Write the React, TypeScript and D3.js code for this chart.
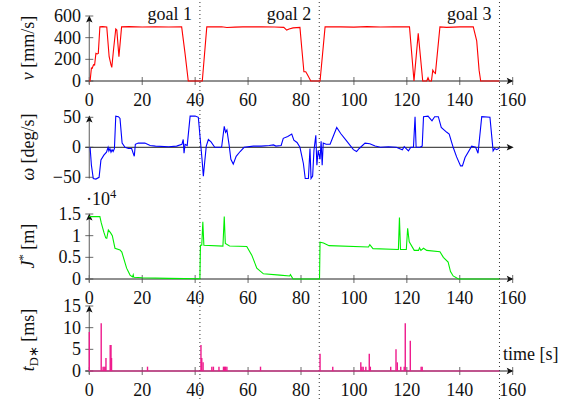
import * as d3 from 'd3'

// time [s], velocity [mm/s]
const velocity: [number, number][] = [
  [0, 0], [0.3, 0], [0.8, 120], [1.1, 117], [1.6, 150], [2.0, 148], [2.5, 255], [3.0, 250], [3.4, 255],
  [4.0, 500], [5, 502], [6.6, 498], [7.5, 224], [8.2, 150], [8.5, 126], [9.2, 300], [10.0, 480], [10.4, 470],
  [11.2, 224], [12.2, 500], [15, 502], [20, 498], [25, 501], [30, 499], [34.9, 500], [36.2, 250], [37.4, 0],
  [42.7, 0], [44.4, 500], [50, 501], [52, 494], [55, 497], [58, 500], [65, 500], [70, 498], [73.5, 495],
  [74.6, 470], [75.5, 480], [77, 490], [79.6, 495], [80.3, 300], [81.1, 86], [81.8, 85], [82.4, 60], [83.7, 0],
  [87.2, 0], [89.1, 500], [95, 500], [100, 497], [105, 502], [110, 499], [115, 500], [121, 500], [122.7, 0],
  [124.3, 440], [126, 0], [127.5, 0], [128, 30], [128.5, 0], [129.3, 0], [129.8, 100], [130.3, 80], [130.8, 70],
  [132.5, 500], [135, 495], [140, 500], [145.1, 500], [146.4, 370], [147.3, 100], [147.9, 0], [155, 0],
]

// time [s], turn rate [deg/s]
const omega: [number, number][] = [
  [0.3, 0], [0.8, -30], [1.5, -52], [2.5, -53], [3.7, -50], [4.4, -21], [5.5, -13], [6.5, -8], [7.1, 0],
  [7.4, -6], [7.8, -2], [8.2, -8], [8.6, -4], [9.0, -7], [9.5, -2], [10.0, 52], [11.0, 51], [11.6, 48],
  [12.4, 7], [13.5, 0], [14.8, -2], [16.0, -2], [16.6, -10], [17.0, -15], [17.4, 5], [18.5, 7], [21, 7],
  [23, 3], [25, 2], [30, 1], [33, 2], [35.0, 5], [35.5, 13], [35.8, -10], [36.2, 5], [37.0, 3], [38.1, 52],
  [40, 52], [41.2, 50], [42.0, 10], [42.6, -20], [43.1, -48], [43.6, -25], [44.2, 2], [45, 13], [46, 9],
  [47.4, 0], [50, 0], [51, 35], [51.5, 25], [52, 29], [52.8, 5], [53.5, -20], [54.4, -28], [55.5, -15],
  [57, -7], [58.5, 0], [62, 2], [65, 2], [68, 3], [69.6, 4], [70.5, 2], [72.5, 3], [73.3, 15], [75, 18],
  [76.5, 22], [77.3, 12], [78.5, 8], [79.6, 0], [80.9, -27], [81.6, -52], [82.8, -52], [83.4, -2], [83.8, -52],
  [84.4, -48], [84.9, -5], [85.6, 20], [86.0, -30], [86.5, -5], [87.2, -20], [87.6, 10], [88.0, -30], [88.4, 7],
  [89.5, 5], [91, 5], [93.5, 33], [95, 23], [97, 12], [99.8, -4], [101, -7], [102, -2], [104.2, 7], [106, 6],
  [108, 2], [110, 0], [113, 1], [116, 0], [118.3, -4], [119, 1], [120.6, -6], [121.5, 0], [122.5, 0],
  [123.1, 51], [123.5, 0], [125, 0], [125.8, 2], [126.3, 51], [128, 52], [129.5, 44], [130.5, 51], [131.9, 51],
  [133.0, 33], [135.1, 25], [136, 22], [137.5, 0], [138.8, -16], [140.3, -31], [141, -31], [142, -17],
  [144.5, 2], [146, 0], [146.9, -10], [148.3, 51], [151.4, 50], [152.6, -6], [153.2, -2], [154, -4], [155, -1],
]

// time [s], cost J* [x10^4 m]
const cost: [number, number][] = [
  [0, 1.44], [4.0, 1.44], [4.5, 1.30], [5.5, 1.08], [6.2, 0.95], [6.6, 0.94], [7.2, 1.13], [8.0, 1.07],
  [8.7, 1.0], [9.7, 0.71], [11.6, 0.67], [12.3, 0.62], [14.1, 0.25], [15.4, 0.09], [16.3, 0.05], [16.6, 0.1],
  [16.8, 0.04], [20, 0.03], [30, 0.015], [41.8, 0.005], [42.0, 0.78], [42.5, 0.78], [42.9, 1.32], [43.3, 0.78],
  [50.5, 0.76], [51, 1.44], [51.4, 0.82], [53, 0.76], [59.5, 0.75], [61.4, 0.55], [63.3, 0.25], [65.8, 0.12],
  [72, 0.09], [75.7, 0.07], [76, 0.1], [77, 0.0], [87.0, 0.0], [87.2, 0.85], [88.5, 0.83], [90.6, 0.77],
  [105.5, 0.74], [106, 0.79], [107.2, 0.70], [116.8, 0.68], [117.2, 1.42], [117.6, 0.68], [119.8, 0.68],
  [120.3, 1.17], [120.9, 0.86], [122.8, 0.66], [124.4, 0.66], [124.8, 0.72], [125.3, 0.66], [126.3, 0.71],
  [127.5, 0.66], [132.5, 0.63], [133.8, 0.50], [135.6, 0.39], [136.5, 0.17], [137.5, 0.07], [139.5, 0.0],
  [155, 0.0],
]

// planning times t_D* [ms]
const planTimes = [0, 4.5, 5.2, 5.6, 6.0, 6.3, 7.9, 8.2, 8.4, 22, 42.2, 42.5, 43, 46.3, 46.9, 49, 50.7, 51.1,
  51.5, 52, 64.7, 87.2, 92, 102.6, 103, 103.5, 104.5, 105.8, 106.2, 113.9, 115.9, 116.4, 117.7, 119, 119.4,
  121.3, 125.4, 125.8]
const planValues = [9, 11, 1, 1, 1, 3, 6, 6, 3, 1, 6, 3, 2, 1, 1, 1, 1, 1, 1, 1, 1, 4, 1, 2, 1, 1, 1, 4, 1, 1,
  5, 2, 1, 1, 11, 7, 1, 1]

const goalTimes = [41.8, 86.9, 155]
const goalLabels = ['goal 1', 'goal 2', 'goal 3']
const xTicks = [0, 20, 40, 60, 80, 100, 120, 140, 160]

const FONT = 'Liberation Serif'
const FS = 18
const SUB = 12.5

const x = d3.scaleLinear().domain([0, 160]).range([89.3, 512.7])
const yV = d3.scaleLinear().domain([0, 600]).range([81, 16])
const yW = d3.scaleLinear().domain([-50, 50]).range([177.3, 117.3])
const yJ = d3.scaleLinear().domain([0, 1.5]).range([279, 214])
const yT = d3.scaleLinear().domain([0, 15]).range([371, 306])

function linePath(data: [number, number][], y: d3.ScaleLinear<number, number>) {
  return d3.line<[number, number]>().x(d => x(d[0])).y(d => y(d[1]))(data) || ''
}

interface AxisProps {
  y: d3.ScaleLinear<number, number>
  yTicks: number[]
  yFormat: (v: number) => string
  y0: number
  xLabels?: boolean
  xTickMarks?: boolean
  yTop: number
  yBottom: number
}

function Axes({ y, yTicks, yFormat, y0, xLabels = true, xTickMarks = true, yTop, yBottom }: AxisProps) {
  const ay = y(y0)
  const xEnd = x(160) + 1
  return (
    <g>
      {/* x axis */}
      <line x1={x(-1.5)} x2={xEnd - 4} y1={ay} y2={ay} stroke="#222" strokeWidth={1} />
      <path d={`M${xEnd},${ay} L${xEnd - 7},${ay - 3.2} L${xEnd - 5.5},${ay} L${xEnd - 7},${ay + 3.2} Z`} fill="#111" />
      {xTickMarks && xTicks.map(t => (
        <line key={t} x1={x(t)} x2={x(t)} y1={ay - 4} y2={ay + 4} stroke="#444" strokeWidth={0.8} />
      ))}
      {xLabels && xTicks.map(t => (
        <text key={'l' + t} x={x(t)} y={ay + 24.5} textAnchor="middle" fontFamily={FONT} fontSize={FS} fill="#111">{t}</text>
      ))}
      {/* y axis */}
      <line x1={x(0)} x2={x(0)} y1={yBottom} y2={yTop + 4} stroke="#777" strokeWidth={1.2} />
      <path d={`M${x(0)},${yTop} L${x(0) - 3.2},${yTop + 7} L${x(0)},${yTop + 5.5} L${x(0) + 3.2},${yTop + 7} Z`} fill="#111" />
      {yTicks.map(v => (
        <g key={v}>
          <line x1={x(0) - 4} x2={x(0) + 4} y1={y(v)} y2={y(v)} stroke="#444" strokeWidth={0.8} />
          <text x={81} y={y(v) + 6} textAnchor="end" fontFamily={FONT} fontSize={FS} fill="#111">{yFormat(v)}</text>
        </g>
      ))}
    </g>
  )
}

function YTitle({ cy, children }: { cy: number; children: any }) {
  return (
    <text transform={`translate(34,${cy}) rotate(-90)`} textAnchor="middle" fontFamily={FONT} fontSize={FS} fill="#111">
      {children}
    </text>
  )
}

export default function App() {
  const magenta = '#ee1a8c'
  return (
    <svg width={577} height={400} style={{ position: 'absolute', left: 0, top: 0, background: '#fff' }}>
      <rect width={577} height={400} fill="#fff" />

      {/* goal separators */}
      {goalTimes.map((t, i) => (
        <g key={t}>
          <line x1={x(t)} x2={x(t)} y1={2} y2={400} stroke="#333" strokeWidth={1} strokeDasharray="1 3" />
          <text x={x(t) - 8} y={20} textAnchor="end" fontFamily={FONT} fontSize={FS} fill="#111">{goalLabels[i]}</text>
        </g>
      ))}

      {/* panel 1: velocity */}
      <Axes y={yV} yTicks={[0, 200, 400, 600]} yFormat={v => String(v)} y0={0} yTop={15.5} yBottom={84} />
      <path d={linePath(velocity, yV)} fill="none" stroke="#ff0000" strokeWidth={1.1} />
      <YTitle cy={48}><tspan fontStyle="italic">v</tspan> [mm/s]</YTitle>

      {/* panel 2: turn rate */}
      <Axes y={yW} yTicks={[-50, 0, 50]} yFormat={v => (v < 0 ? '\u2212' + Math.abs(v) : String(v))} y0={0}
        xLabels={false} xTickMarks={false} yTop={115.5} yBottom={178.5} />
      <path d={linePath(omega, yW)} fill="none" stroke="#0000ff" strokeWidth={1.1} />
      <YTitle cy={147}><tspan fontStyle="italic">ω</tspan> [deg/s]</YTitle>

      {/* panel 3: cost */}
      <Axes y={yJ} yTicks={[0, 0.5, 1, 1.5]} yFormat={v => String(v)} y0={0} yTop={213.5} yBottom={282} />
      <path d={linePath(cost, yJ)} fill="none" stroke="#00ee00" strokeWidth={1.1} />
      <text x={86} y={205} fontFamily={FONT} fontSize={FS} fill="#111">·10<tspan dy={-7} fontSize={SUB}>4</tspan></text>
      <YTitle cy={246}><tspan fontStyle="italic">J</tspan><tspan dy={-7} fontSize={SUB}>*</tspan><tspan dy={7}> [m]</tspan></YTitle>

      {/* panel 4: planning time */}
      <Axes y={yT} yTicks={[0, 5, 10, 15]} yFormat={v => String(v)} y0={0} yTop={305.5} yBottom={374} />
      <line x1={x(0)} x2={x(155)} y1={yT(0)} y2={yT(0)} stroke={magenta} strokeWidth={1.1} />
      {planTimes.map((t, i) => (
        <line key={i} x1={x(t)} x2={x(t)} y1={yT(0)} y2={yT(planValues[i])} stroke={magenta} strokeWidth={1.4} />
      ))}
      <text x={503} y={360} fontFamily={FONT} fontSize={FS} fill="#111">time [s]</text>
      <YTitle cy={340}>
        <tspan fontStyle="italic">t</tspan><tspan dy={4} fontSize={SUB}>D∗</tspan><tspan dy={-4}> [ms]</tspan>
      </YTitle>
    </svg>
  )
}
